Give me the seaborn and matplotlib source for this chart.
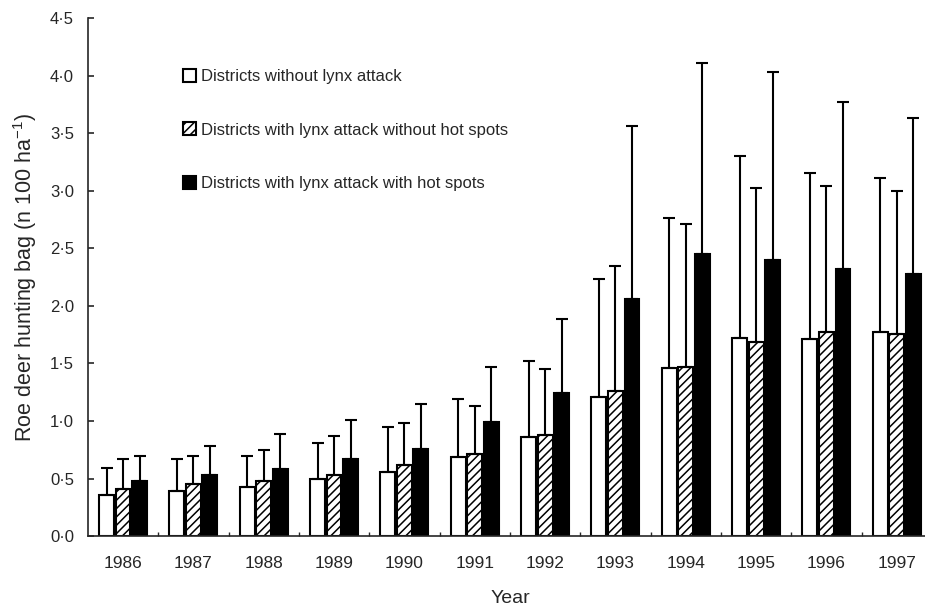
import matplotlib
matplotlib.use('Agg')
import matplotlib.pyplot as plt
import pandas as pd
import seaborn as sns

years = ['1986', '1987', '1988', '1989', '1990', '1991',
         '1992', '1993', '1994', '1995', '1996', '1997']

groups = ['Districts without lynx attack',
          'Districts with lynx attack without hot spots',
          'Districts with lynx attack with hot spots']

# mean hunting bag per group
no_lynx = [0.36, 0.39, 0.43, 0.50, 0.56, 0.69, 0.86, 1.21, 1.46, 1.72, 1.71, 1.77]
lynx_no_hot = [0.41, 0.45, 0.48, 0.53, 0.62, 0.71, 0.88, 1.26, 1.47, 1.69, 1.77, 1.76]
lynx_hot = [0.48, 0.53, 0.58, 0.67, 0.76, 0.99, 1.24, 2.06, 2.45, 2.40, 2.32, 2.28]

# standard deviations (upper error bars only)
no_lynx_sd = [0.23, 0.28, 0.27, 0.31, 0.39, 0.50, 0.66, 1.02, 1.30, 1.58, 1.44, 1.34]
lynx_no_hot_sd = [0.26, 0.25, 0.27, 0.34, 0.36, 0.42, 0.57, 1.09, 1.24, 1.33, 1.27, 1.24]
lynx_hot_sd = [0.22, 0.25, 0.31, 0.34, 0.39, 0.48, 0.65, 1.50, 1.66, 1.63, 1.45, 1.35]

ytick_values = [0.0, 0.5, 1.0, 1.5, 2.0, 2.5, 3.0, 3.5, 4.0, 4.5]
ytick_labels = ['0·0', '0·5', '1·0', '1·5', '2·0', '2·5', '3·0', '3·5', '4·0', '4·5']

df = pd.DataFrame({
    'Year': years * 3,
    'Group': [g for g in groups for _ in years],
    'Bag': no_lynx + lynx_no_hot + lynx_hot,
})
sds = [no_lynx_sd, lynx_no_hot_sd, lynx_hot_sd]
means = [no_lynx, lynx_no_hot, lynx_hot]

sns.set_style('ticks')
plt.rcParams['font.family'] = ['Liberation Sans', 'DejaVu Sans']
plt.rcParams['mathtext.fontset'] = 'custom'
plt.rcParams['mathtext.rm'] = 'Liberation Sans'
plt.rcParams['mathtext.it'] = 'Liberation Sans:italic'
plt.rcParams['hatch.linewidth'] = 1.1

fig, ax = plt.subplots(figsize=(9.25, 6.1), dpi=100)
fig.subplots_adjust(left=0.095, right=1.0075, bottom=0.121, top=0.9705)

sns.barplot(data=df, x='Year', y='Bag', hue='Group', order=years, hue_order=groups,
            palette=['white', 'white', 'black'], edgecolor='black', linewidth=1.5,
            width=0.705, gap=0.1, errorbar=None, legend=False, ax=ax)

bar_containers = list(ax.containers)
for i, cont in enumerate(bar_containers):
    if i == 1:
        for bar in cont:
            bar.set_hatch('////')
    xs = [bar.get_x() + bar.get_width() / 2 for bar in cont]
    ax.errorbar(xs, means[i], yerr=[[0] * len(years), sds[i]], fmt='none',
                ecolor='black', elinewidth=1.5, capsize=4.5, capthick=1.5, zorder=1)

ax.legend(bar_containers, groups, loc='upper left', bbox_to_anchor=(0.198, 0.887),
          bbox_transform=fig.transFigure, frameon=False, fontsize=12,
          handlelength=0.8, handleheight=0.8, handletextpad=0.25,
          labelspacing=2.3, borderpad=0, borderaxespad=0)

ax.set_xlim(-0.5, len(years) - 0.5)
ax.set_ylim(0, 4.5)
ax.set_yticks(ytick_values)
ax.set_yticklabels(ytick_labels)
ax.set_xticks(range(len(years)))
ax.set_xticks([i + 0.5 for i in range(len(years) - 1)], minor=True)
ax.tick_params(axis='x', which='major', length=0, pad=14, labelsize=12.5)
ax.tick_params(axis='x', which='minor', length=3, width=1, direction='in')
ax.tick_params(axis='y', length=4, width=1.2, direction='in', pad=10, labelsize=12)

ax.set_xlabel('Year', fontsize=14, labelpad=14)
ax.set_ylabel('Roe deer hunting bag (n 100 ha$^{-1}$)', fontsize=15.5, labelpad=8)

sns.despine(ax=ax)
for s in ['left', 'bottom']:
    ax.spines[s].set_linewidth(1.2)

plt.savefig('out.png', dpi=100)
plt.close()
